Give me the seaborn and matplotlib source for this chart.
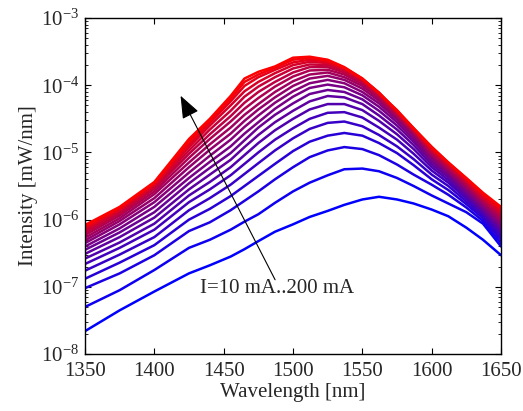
import numpy as np
import pandas as pd
import matplotlib
matplotlib.use("Agg")
import matplotlib.pyplot as plt
from matplotlib.ticker import NullLocator
import seaborn as sns

sns.set_style("ticks")
plt.rcParams['font.family'] = ['Liberation Serif', 'DejaVu Serif']
plt.rcParams['mathtext.fontset'] = 'stix'

wavelength = [1350, 1375, 1400, 1425, 1440, 1455, 1465, 1475, 1487, 1500, 1512,
              1525, 1537, 1550, 1562, 1575, 1587, 1600, 1612, 1625, 1637, 1650]

# log10 of intensity [mW/nm], one list per drive current
i010 = [-7.66, -7.35, -7.07, -6.80, -6.68, -6.55, -6.44, -6.32, -6.18, -6.07, -5.96, -5.87, -5.78, -5.70, -5.66, -5.70, -5.76, -5.85, -5.95, -6.12, -6.30, -6.53]
i020 = [-7.30, -7.05, -6.75, -6.42, -6.30, -6.15, -6.03, -5.92, -5.75, -5.58, -5.45, -5.34, -5.25, -5.24, -5.28, -5.38, -5.50, -5.64, -5.76, -5.89, -6.06, -6.40]
i030 = [-7.02, -6.80, -6.53, -6.17, -6.04, -5.86, -5.72, -5.58, -5.40, -5.22, -5.07, -4.97, -4.92, -4.95, -5.04, -5.18, -5.33, -5.48, -5.63, -5.82, -6.02, -6.35]
i040 = [-6.88, -6.64, -6.38, -6.00, -5.84, -5.65, -5.50, -5.35, -5.17, -4.98, -4.84, -4.75, -4.71, -4.75, -4.86, -5.01, -5.19, -5.40, -5.56, -5.77, -5.98, -6.30]
i050 = [-6.76, -6.52, -6.26, -5.86, -5.68, -5.48, -5.32, -5.16, -4.97, -4.79, -4.65, -4.56, -4.54, -4.61, -4.74, -4.91, -5.10, -5.33, -5.50, -5.73, -5.95, -6.26]
i060 = [-6.66, -6.42, -6.15, -5.74, -5.55, -5.34, -5.17, -5.00, -4.81, -4.64, -4.50, -4.41, -4.40, -4.48, -4.63, -4.81, -5.02, -5.27, -5.45, -5.69, -5.92, -6.22]
i070 = [-6.58, -6.34, -6.06, -5.64, -5.44, -5.22, -5.04, -4.86, -4.67, -4.50, -4.36, -4.28, -4.28, -4.37, -4.53, -4.73, -4.95, -5.22, -5.41, -5.66, -5.89, -6.18]
i080 = [-6.51, -6.26, -5.97, -5.55, -5.33, -5.11, -4.92, -4.74, -4.55, -4.38, -4.24, -4.16, -4.18, -4.28, -4.45, -4.66, -4.89, -5.18, -5.37, -5.63, -5.86, -6.15]
i090 = [-6.45, -6.19, -5.89, -5.46, -5.23, -5.01, -4.82, -4.63, -4.44, -4.27, -4.13, -4.07, -4.10, -4.21, -4.38, -4.60, -4.84, -5.14, -5.34, -5.60, -5.84, -6.12]
i100 = [-6.40, -6.13, -5.81, -5.38, -5.14, -4.91, -4.72, -4.55, -4.35, -4.17, -4.04, -3.99, -4.03, -4.15, -4.32, -4.55, -4.80, -5.11, -5.31, -5.575, -5.82, -6.09]
i110 = [-6.35, -6.07, -5.74, -5.30, -5.05, -4.81, -4.62, -4.45, -4.26, -4.09, -3.97, -3.92, -3.97, -4.10, -4.27, -4.51, -4.76, -5.08, -5.29, -5.55, -5.79, -6.06]
i120 = [-6.31, -6.02, -5.68, -5.22, -4.96, -4.72, -4.53, -4.36, -4.18, -4.01, -3.90, -3.86, -3.92, -4.05, -4.23, -4.48, -4.73, -5.05, -5.27, -5.525, -5.77, -6.03]
i130 = [-6.27, -5.98, -5.62, -5.15, -4.88, -4.63, -4.44, -4.28, -4.10, -3.94, -3.84, -3.81, -3.88, -4.01, -4.20, -4.46, -4.71, -5.03, -5.25, -5.50, -5.74, -6.00]
i140 = [-6.23, -5.94, -5.58, -5.08, -4.80, -4.54, -4.35, -4.19, -4.02, -3.87, -3.78, -3.77, -3.84, -3.98, -4.17, -4.44, -4.69, -5.01, -5.23, -5.48, -5.72, -5.97]
i150 = [-6.20, -5.91, -5.54, -5.02, -4.73, -4.46, -4.26, -4.10, -3.95, -3.81, -3.73, -3.73, -3.81, -3.95, -4.15, -4.42, -4.68, -4.99, -5.21, -5.46, -5.70, -5.94]
i160 = [-6.17, -5.88, -5.51, -4.97, -4.66, -4.38, -4.17, -4.02, -3.88, -3.75, -3.69, -3.70, -3.78, -3.93, -4.13, -4.41, -4.67, -4.97, -5.19, -5.44, -5.68, -5.91]
i170 = [-6.14, -5.86, -5.49, -4.92, -4.60, -4.30, -4.09, -3.95, -3.82, -3.70, -3.65, -3.67, -3.76, -3.92, -4.12, -4.40, -4.66, -4.955, -5.17, -5.42, -5.66, -5.88]
i180 = [-6.12, -5.84, -5.47, -4.88, -4.56, -4.24, -4.01, -3.88, -3.77, -3.66, -3.62, -3.65, -3.75, -3.91, -4.11, -4.39, -4.65, -4.94, -5.16, -5.405, -5.64, -5.86]
i190 = [-6.10, -5.825, -5.455, -4.84, -4.53, -4.20, -3.95, -3.84, -3.74, -3.62, -3.595, -3.63, -3.74, -3.90, -4.11, -4.38, -4.64, -4.925, -5.15, -5.39, -5.62, -5.83]
i200 = [-6.08, -5.81, -5.44, -4.80, -4.50, -4.16, -3.90, -3.80, -3.72, -3.59, -3.575, -3.62, -3.73, -3.90, -4.12, -4.37, -4.64, -4.915, -5.15, -5.38, -5.60, -5.81]

current_mA = [10, 20, 30, 40, 50, 60, 70, 80, 90, 100,
              110, 120, 130, 140, 150, 160, 170, 180, 190, 200]
spectra = [i010, i020, i030, i040, i050, i060, i070, i080, i090, i100,
           i110, i120, i130, i140, i150, i160, i170, i180, i190, i200]

rows = []
for cur, spec in zip(current_mA, spectra):
    assert len(spec) == len(wavelength)
    for wl, v in zip(wavelength, spec):
        rows.append({"wavelength": wl, "current": cur, "intensity": 10.0 ** v})
df = pd.DataFrame(rows)

n = len(current_mA)
palette = [(i / (n - 1), 0.0, 1.0 - i / (n - 1)) for i in range(n)]

fig, ax = plt.subplots(figsize=(5.23, 4.11), dpi=100)
sns.lineplot(data=df, x="wavelength", y="intensity", hue="current",
             palette=palette, legend=False, lw=1.8, estimator=None, ax=ax)

ax.set_yscale("log")
ax.set_xlim(1350, 1650)
ax.set_ylim(1e-8, 1e-3)
ax.set_xticks(range(1350, 1651, 50))
ax.xaxis.set_minor_locator(NullLocator())
ax.tick_params(direction="in", top=True, right=True, which="both",
               labelsize=15, color="k")
ax.tick_params(which="major", length=4)
ax.tick_params(which="minor", length=2)
ax.tick_params(axis="x", pad=6)
ax.tick_params(axis="y", pad=4)
for s in ax.spines.values():
    s.set_color("k")
    s.set_linewidth(1.0)

ax.set_xlabel("Wavelength [nm]", fontsize=15, labelpad=1)
ax.set_ylabel("Intensity [mW/nm]", fontsize=15, labelpad=2)

ax.annotate("", xy=(1418, 7.6e-5), xytext=(1488, 1.17e-7),
            arrowprops=dict(arrowstyle="-|>,head_length=1.4,head_width=0.55",
                            mutation_scale=10, color="k", lw=0.8))
ax.text(1433, 9.5e-8, "I=10 mA..200 mA", fontsize=15, va="center")

fig.subplots_adjust(left=0.1625, right=0.958, bottom=0.1387, top=0.956)
fig.savefig("out.png", dpi=100)
